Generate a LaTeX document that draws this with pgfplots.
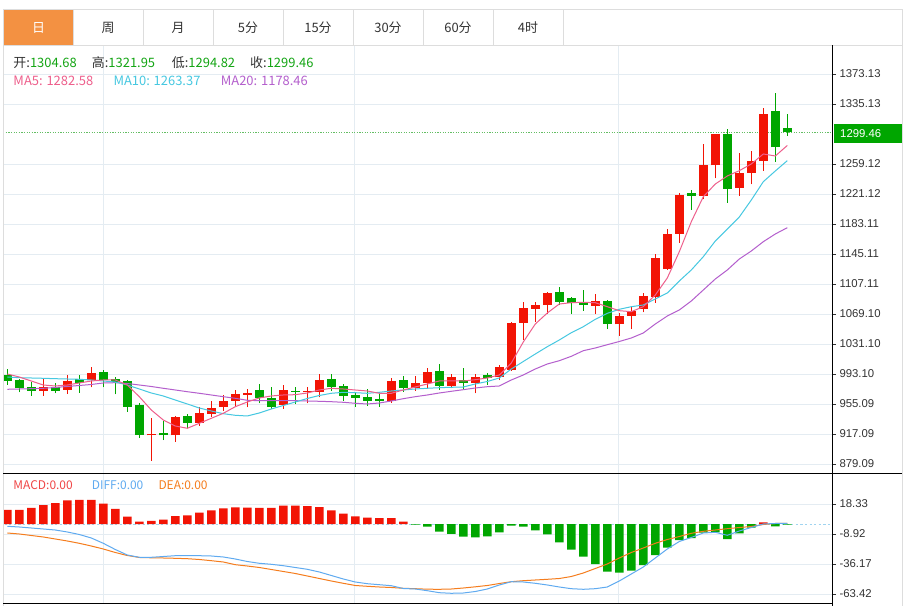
\documentclass[border=0pt]{standalone}
\usepackage{fontspec}
\usepackage{pgfplots}
\pgfplotsset{compat=1.18}
\usepackage{pgfplotstable}
\setmainfont{Liberation Sans}
\newfontfamily\cjk{Noto Sans CJK SC}

\definecolor{cred}{RGB}{242,20,5}
\definecolor{cgreen}{RGB}{0,166,0}
\definecolor{ma5c}{RGB}{238,95,140}
\definecolor{ma10c}{RGB}{70,200,225}
\definecolor{ma20c}{RGB}{180,95,205}
\definecolor{diffc}{RGB}{95,170,240}
\definecolor{deac}{RGB}{245,125,30}
\definecolor{gridc}{RGB}{228,236,242}
\definecolor{tabc}{RGB}{221,221,221}
\definecolor{tabo}{RGB}{243,145,66}
\definecolor{textc}{RGB}{51,51,51}
\definecolor{hgreen}{RGB}{20,165,20}
\definecolor{mred}{RGB}{240,70,70}
\definecolor{lastc}{RGB}{100,190,100}
\definecolor{zeroc}{RGB}{160,212,240}

\newcommand{\tickfont}{\fontsize{11.4}{13}\selectfont}
\newcommand{\hdr}{\cjk\fontsize{13}{15}\selectfont}

\pgfplotstableread{
i o h l c
3 972.0 987.7 965.6 976.3
5 972.9 991.9 967.8 984.6
7 985.5 1002.4 976.3 994.0
12 915.5 937.0 883.3 917.1
14 915.5 939.9 907.4 938.3
16 931.4 951.7 927.6 943.7
17 942.5 959.3 939.0 949.7
18 951.7 966.5 946.6 959.3
19 959.3 972.9 951.7 967.4
20 966.9 973.8 951.0 969.4
23 953.9 979.2 948.8 972.9
25 969.9 976.3 956.0 971.6
26 970.7 993.1 963.6 985.5
32 959.3 987.7 956.8 984.6
34 975.8 990.6 972.0 982.1
35 981.4 1000.4 975.0 996.0
37 978.3 992.7 975.0 988.9
39 982.1 993.1 968.7 988.9
41 988.9 1004.5 985.5 1001.6
42 998.2 1059.4 997.3 1058.1
43 1058.1 1084.7 1036.2 1076.4
44 1075.5 1084.7 1059.4 1080.5
45 1080.2 1097.4 1069.1 1096.1
49 1079.6 1094.1 1069.1 1085.6
51 1056.1 1070.0 1041.6 1066.6
52 1067.0 1077.6 1049.8 1073.3
53 1075.1 1095.4 1071.3 1092.3
54 1090.3 1145.1 1083.4 1139.7
55 1125.8 1176.4 1124.9 1170.5
56 1170.5 1222.8 1159.4 1219.5
58 1219.0 1284.5 1214.4 1257.5
59 1257.5 1297.5 1241.0 1296.8
61 1229.1 1273.4 1219.0 1248.1
62 1248.1 1275.6 1233.4 1262.9
63 1263.3 1329.7 1250.6 1322.5
}\redc

\pgfplotstableread{
i o h l c
0 991.9 999.1 979.2 984.6
1 985.5 986.5 969.9 975.0
2 976.3 983.4 965.6 972.0
4 977.0 981.4 968.7 972.0
6 986.4 991.9 969.4 982.1
8 995.3 998.2 976.3 985.5
9 986.4 989.7 967.4 982.6
10 984.3 985.0 945.4 951.7
11 953.9 956.0 912.4 915.9
13 918.8 933.6 909.5 915.5
15 939.9 942.5 924.4 931.4
21 972.9 980.5 956.0 962.3
22 962.3 976.3 948.4 951.7
24 971.8 977.0 955.1 970.5
27 986.8 992.7 971.6 976.3
28 977.9 980.5 959.3 965.3
29 966.5 968.7 951.7 963.1
30 963.6 973.8 952.6 959.3
31 961.1 970.7 951.7 958.9
33 985.5 990.6 970.7 975.8
36 997.3 1005.4 972.9 978.3
38 985.5 1001.1 972.9 982.1
40 991.9 994.0 979.2 988.4
46 1096.6 1103.0 1080.5 1084.7
47 1089.0 1090.3 1069.1 1082.7
48 1082.7 1099.5 1073.3 1080.5
50 1085.6 1086.9 1050.1 1056.8
57 1222.4 1226.2 1200.9 1218.6
60 1296.8 1303.5 1210.1 1227.5
64 1326.3 1349.4 1262.0 1280.3
65 1304.68 1321.95 1294.82 1299.46
}\greenc

\pgfplotstableread{
i ma5 ma10 ma20
0 993.13 989.33 973.75
1 989.33 988.44 974.13
2 984.26 988.06 974.51
3 979.19 987.68 975.01
4 977.93 987.17 976.03
5 979.19 986.79 977.29
6 981.73 986.41 978.56
7 984.26 985.53 979.83
8 985.53 984.26 981.73
9 985.53 982.99 982.11
10 979.19 979.19 981.09
11 964.38 974.13 979.19
12 947.53 969.06 977.29
13 934.86 965.26 975.01
14 927.26 960.19 972.86
15 924.35 955.13 970.70
16 930.68 950.06 968.68
17 937.01 946.26 966.53
18 943.35 942.84 964.38
19 951.71 940.81 962.34
20 957.66 939.93 959.81
21 962.73 943.73 959.31
22 965.26 948.79 959.31
23 966.53 953.23 959.31
24 966.91 957.66 959.31
25 969.06 962.09 958.93
26 972.86 965.89 958.55
27 975.01 968.68 958.04
28 974.13 969.94 957.28
29 972.86 969.44 956.01
30 971.59 968.68 955.13
31 968.68 969.94 956.39
32 968.68 971.59 958.93
33 972.86 972.86 961.84
34 976.66 974.13 964.38
35 980.46 975.01 966.53
36 984.26 975.77 969.06
37 984.26 976.28 971.21
38 984.26 976.66 973.24
39 985.91 980.46 975.39
40 988.06 983.63 977.04
41 991.86 988.06 977.93
42 1007.06 999.46 985.53
43 1033.66 1008.96 991.86
44 1056.46 1018.46 999.46
45 1070.39 1027.71 1005.79
46 1081.79 1036.19 1009.97
47 1083.44 1045.44 1015.55
48 1083.95 1053.04 1022.64
49 1083.44 1062.41 1026.06
50 1078.38 1070.01 1030.24
51 1073.31 1075.08 1034.29
52 1072.04 1078.38 1038.73
53 1078.38 1080.53 1045.06
54 1093.19 1088.13 1056.46
55 1114.73 1095.73 1066.59
56 1148.04 1110.93 1074.19
57 1186.04 1124.86 1085.59
58 1217.71 1141.71 1099.53
59 1233.79 1161.59 1113.46
60 1243.93 1176.79 1124.86
61 1250.64 1191.99 1138.79
62 1259.13 1213.53 1148.93
63 1271.79 1236.71 1160.71
64 1269.26 1250.26 1170.46
65 1282.58 1263.37 1178.46
}\matab

\pgfplotstableread{
i macd diff dea
0 12.9 -1.93 -8.01
1 12.9 -2.56 -8.92
2 14.7 -3.47 -10.28
3 17.4 -4.38 -11.64
4 19.2 -5.29 -13.46
5 21.7 -7.10 -15.28
6 22.0 -9.37 -17.37
7 22.0 -12.55 -19.82
8 18.6 -17.37 -22.54
9 13.8 -23.00 -25.72
10 6.8 -27.99 -28.45
11 2.3 -30.08 -30.26
12 2.9 -30.08 -30.54
13 4.1 -29.36 -30.72
14 7.4 -28.63 -30.99
15 8.0 -28.63 -31.35
16 10.5 -28.63 -32.08
17 12.6 -28.90 -33.17
18 14.4 -29.81 -34.35
19 15.3 -31.63 -36.80
20 15.0 -33.90 -37.99
21 14.7 -35.53 -39.35
22 14.7 -36.44 -41.16
23 16.8 -37.71 -42.98
24 16.8 -39.35 -44.80
25 16.5 -40.98 -47.07
26 15.6 -43.43 -49.34
27 12.6 -46.61 -51.61
28 9.5 -49.79 -53.70
29 7.1 -52.52 -55.70
30 5.9 -54.06 -56.42
31 5.6 -54.97 -57.06
32 5.6 -55.88 -57.51
33 2.3 -58.42 -58.24
34 -0.3 -58.88 -58.60
35 -2.3 -60.42 -59.06
36 -6.8 -62.24 -59.15
37 -8.9 -62.78 -58.88
38 -11.3 -62.51 -57.97
39 -11.9 -61.15 -56.88
40 -11.0 -58.88 -55.70
41 -7.4 -55.24 -53.88
42 -1.4 -52.25 -52.25
43 -2.3 -52.52 -51.34
44 -5.6 -53.70 -50.70
45 -9.2 -55.24 -50.07
46 -16.5 -57.06 -49.34
47 -23.1 -58.60 -47.52
48 -29.5 -59.15 -44.34
49 -36.2 -58.60 -40.26
50 -43.1 -57.06 -36.17
51 -44.0 -51.61 -30.72
52 -42.2 -45.25 -25.72
53 -37.1 -38.89 -21.64
54 -28.0 -30.72 -17.37
55 -21.3 -22.54 -13.92
56 -14.4 -15.73 -11.19
57 -12.6 -12.10 -8.28
58 -7.7 -8.01 -6.47
59 -7.4 -7.38 -5.29
60 -13.5 -10.10 -4.11
61 -8.3 -6.19 -3.02
62 -3.2 -3.02 -2.11
63 1.7 0.16 -0.29
64 -1.9 0.62 0.62
65 -0.3 0.80 0.80
}\macdtab

\pgfplotsset{
  kstyle/.style={
    scale only axis, width=828bp,
    xmin=-0.275, xmax=68.725,
    axis line style={draw=none},
    ytick pos=right, yticklabel pos=right,
    xtick={7.98,28.89,50.89}, xticklabels={},
    grid=major, major grid style={draw=gridc, line width=0.8bp},
    tick align=outside, major tick length=4bp,
    every tick/.style={draw=textc, line width=0.8bp},
    x tick style={draw=none},
    yticklabel style={font=\tickfont, text=textc},
  },
  cbar/.style 2 args={draw=none, mark=none, forget plot,
    error bars/.cd, y dir=plus, y explicit, error mark=none,
    error bar style={draw=#1, line width=#2}},
}

\begin{document}
\begin{tikzpicture}[x=1bp,y=1bp]
\useasboundingbox (0,0) rectangle (907,606);
\fill[white] (0,0) rectangle (907,606);

% ---------- price panel ----------
\begin{axis}[kstyle, at={(4bp,132bp)}, anchor=south west, height=429bp,
  ymin=866.46, ymax=1409.86,
  ytick={879.09,917.09,955.09,993.10,1031.10,1069.10,1107.11,1145.11,1183.11,1221.12,1259.12,1335.13,1373.13},
  yticklabels={879.09,917.09,955.09,993.10,1031.10,1069.10,1107.11,1145.11,1183.11,1221.12,1259.12,1335.13,1373.13}]
\addplot[lastc, dash pattern=on 1.3bp off 1.3bp, line width=1.1bp] coordinates {(-1,1299.46) (70,1299.46)};
% wicks
\addplot[cbar={cred}{1.4bp}] table[x=i, y=l, y error plus expr=\thisrow{h}-\thisrow{l}] {\redc};
\addplot[cbar={cgreen}{1.4bp}] table[x=i, y=l, y error plus expr=\thisrow{h}-\thisrow{l}] {\greenc};
% bodies
\addplot[cbar={cred}{9bp}] table[x=i, y=o, y error plus expr=\thisrow{c}-\thisrow{o}] {\redc};
\addplot[cbar={cgreen}{9bp}] table[x=i, y=c, y error plus expr=\thisrow{o}-\thisrow{c}] {\greenc};
% moving averages
\addplot[ma20c, line width=1bp, mark=none] table[x=i, y=ma20] {\matab};
\addplot[ma10c, line width=1bp, mark=none] table[x=i, y=ma10] {\matab};
\addplot[ma5c, line width=1bp, mark=none] table[x=i, y=ma5] {\matab};
\end{axis}

% ---------- MACD panel ----------
\begin{axis}[kstyle, at={(4bp,2bp)}, anchor=south west, height=130bp,
  ymin=-72.50, ymax=45.58,
  ytick={-63.42,-36.17,-8.92,18.33},
  yticklabels={-63.42,-36.17,-8.92,18.33}]
\addplot[zeroc, dash pattern=on 2.3bp off 2.3bp, line width=1bp] coordinates {(-1,0) (70,0)};
\addplot[ybar, bar width=8.6bp, bar shift=0pt, fill=cred, draw=none]
  table[x=i, y=macd, restrict y to domain=0:1000] {\macdtab};
\addplot[ybar, bar width=8.6bp, bar shift=0pt, fill=cgreen, draw=none]
  table[x=i, y=macd, restrict y to domain=-1000:0] {\macdtab};
\addplot[deac, line width=1bp, mark=none] table[x=i, y=dea] {\macdtab};
\addplot[diffc, line width=1bp, mark=none] table[x=i, y=diff] {\macdtab};
\end{axis}

% ---------- frame ----------
\draw[tabc, line width=0.8bp] (3.3,0) -- (3.3,596.7);
\draw[tabc, line width=0.8bp] (902,0) -- (902,596.7);
\fill[tabo] (3.7,561) rectangle (73,596.3);
\draw[tabc, line width=0.8bp] (3.3,596.7) -- (902,596.7);
\draw[tabc, line width=0.8bp] (3.3,561) -- (902,561);
\foreach \xx in {73,143,213,283,353,423,493,563} {
  \draw[tabc, line width=0.8bp] (\xx,561) -- (\xx,596.7);
}
\draw[black, line width=0.9bp] (832,0) -- (832,561);
\draw[black, line width=1bp] (3.3,132) -- (902,132);
\draw[black, line width=1bp] (3.3,2) -- (832,2);

% tab labels
\node[text=white, font=\hdr] at (38.5,578) {日};
\node[text=textc, font=\hdr] at (108,578) {周};
\node[text=textc, font=\hdr] at (178,578) {月};
\node[text=textc, font=\hdr] at (248,578) {5分};
\node[text=textc, font=\hdr] at (318,578) {15分};
\node[text=textc, font=\hdr] at (388,578) {30分};
\node[text=textc, font=\hdr] at (458,578) {60分};
\node[text=textc, font=\hdr] at (528,578) {4时};

% header
\node[anchor=base west, inner sep=0, font=\hdr] at (13.3,538.7) {\textcolor{textc}{开:}\textcolor{hgreen}{1304.68}};
\node[anchor=base west, inner sep=0, font=\hdr] at (91.7,538.7) {\textcolor{textc}{高:}\textcolor{hgreen}{1321.95}};
\node[anchor=base west, inner sep=0, font=\hdr] at (171.7,538.7) {\textcolor{textc}{低:}\textcolor{hgreen}{1294.82}};
\node[anchor=base west, inner sep=0, font=\hdr] at (250,538.7) {\textcolor{textc}{收:}\textcolor{hgreen}{1299.46}};
\node[anchor=base west, inner sep=0, font=\hdr, text=ma5c] at (13.3,520.3) {MA5: 1282.58};
\node[anchor=base west, inner sep=0, font=\hdr, text=ma10c] at (113.3,520.3) {MA10: 1263.37};
\node[anchor=base west, inner sep=0, font=\hdr, text=ma20c] at (220.7,520.3) {MA20: 1178.46};

\node[anchor=base west, inner sep=0, font=\cjk\fontsize{12}{14}\selectfont, text=mred] at (13.3,116) {MACD:0.00};
\node[anchor=base west, inner sep=0, font=\cjk\fontsize{12}{14}\selectfont, text=diffc] at (91.7,116) {DIFF:0.00};
\node[anchor=base west, inner sep=0, font=\cjk\fontsize{12}{14}\selectfont, text=deac] at (158.3,116) {DEA:0.00};

% last price label
\fill[cgreen] (834,463.3) rectangle (902,482);
\node[anchor=base west, inner sep=0, text=white, font=\tickfont] at (840,468.7) {1299.46};
\end{tikzpicture}
\end{document}
